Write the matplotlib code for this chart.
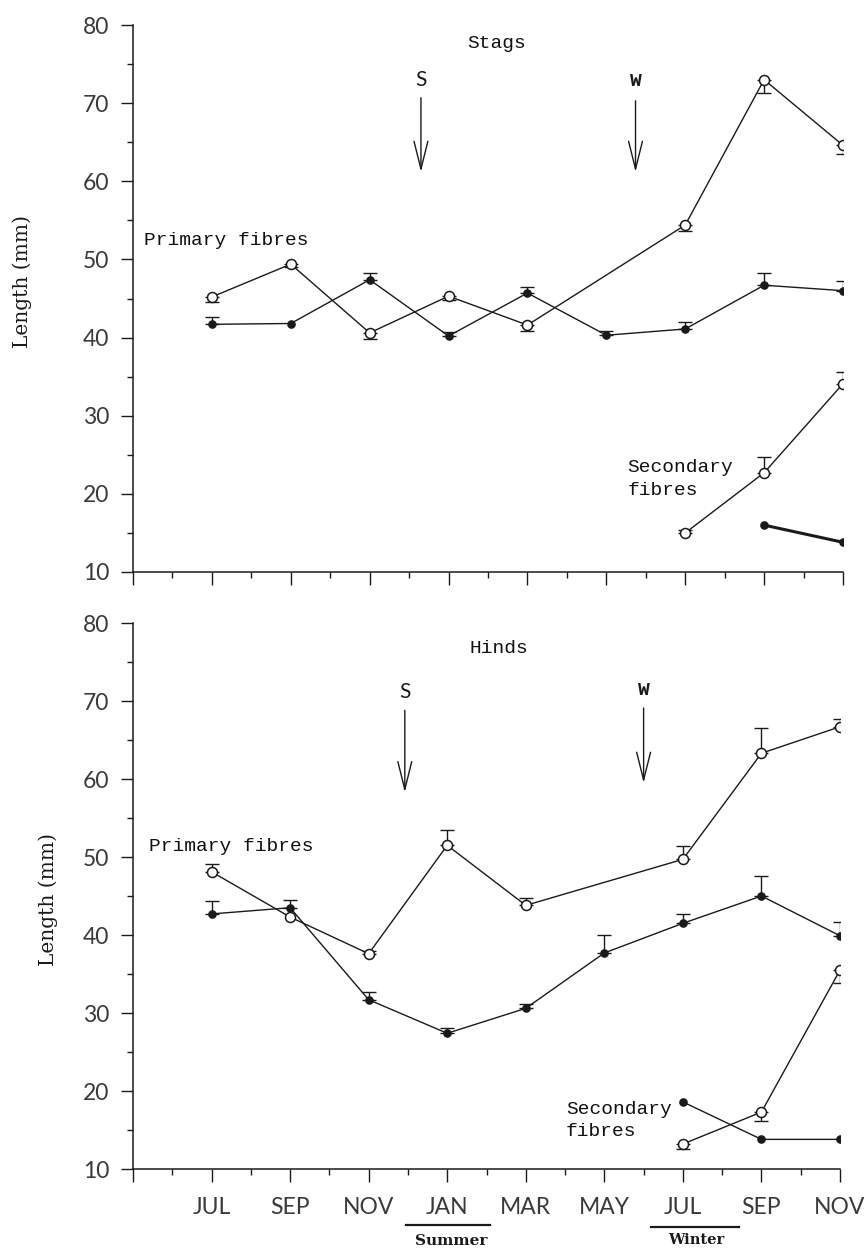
import numpy as np
import matplotlib
matplotlib.use("Agg")
import matplotlib.pyplot as plt
from matplotlib.ticker import FixedLocator, MultipleLocator
import matplotlib.transforms as mtransforms

# ---- data -------------------------------------------------------------
months = ["JUL", "SEP", "NOV", "JAN", "MAR", "MAY", "JUL", "SEP", "NOV"]
month_idx = np.arange(len(months))

# Stags
stag_prim_open_idx = np.array([0, 1, 2, 3, 4, 6, 7, 8])
stag_prim_open = np.array([45.2, 49.4, 40.6, 45.3, 41.6, 54.4, 73.0, 64.6])
stag_prim_open_lo = np.array([0.7, 0.4, 0.8, 0.5, 0.7, 0.8, 1.7, 1.1])
stag_prim_open_hi = np.zeros(8)

stag_prim_fill_idx = month_idx
stag_prim_fill = np.array([41.7, 41.8, 47.4, 40.2, 45.7, 40.3, 41.1, 46.7, 46.0])
stag_prim_fill_lo = np.zeros(9)
stag_prim_fill_hi = np.array([0.9, 0.0, 0.9, 0.5, 0.8, 0.5, 0.9, 1.6, 1.2])

stag_sec_open_idx = np.array([6, 7, 8])
stag_sec_open = np.array([15.0, 22.7, 34.1])
stag_sec_open_lo = np.zeros(3)
stag_sec_open_hi = np.array([0.4, 2.0, 1.5])

stag_sec_fill_idx = np.array([7, 8])
stag_sec_fill = np.array([16.0, 13.8])

# Hinds
hind_prim_open_idx = np.array([0, 1, 2, 3, 4, 6, 7, 8])
hind_prim_open = np.array([48.1, 42.3, 37.6, 51.5, 43.8, 49.7, 63.3, 66.7])
hind_prim_open_lo = np.zeros(8)
hind_prim_open_hi = np.array([1.0, 0.0, 0.3, 2.0, 0.9, 1.7, 3.2, 1.0])

hind_prim_fill_idx = month_idx
hind_prim_fill = np.array([42.7, 43.5, 31.7, 27.4, 30.6, 37.7, 41.5, 45.0, 39.9])
hind_prim_fill_lo = np.zeros(9)
hind_prim_fill_hi = np.array([1.7, 1.0, 1.0, 0.7, 0.6, 2.3, 1.2, 2.6, 1.8])

hind_sec_open_idx = np.array([6, 7, 8])
hind_sec_open = np.array([13.2, 17.3, 35.5])
hind_sec_open_lo = np.array([0.6, 1.1, 1.7])
hind_sec_open_hi = np.zeros(3)

hind_sec_fill_idx = np.array([6, 7, 8])
hind_sec_fill = np.array([18.6, 13.8, 13.8])

# ---- style ------------------------------------------------------------
INK = "#1a1a1a"
TICK_INK = "#3a3a3a"
MONO = "Liberation Mono"
TICKFONT = dict(family="Lato", weight="normal", size=16.5, color=TICK_INK)
LABELFONT = dict(family=MONO, size=14, color="#111111")

fig = plt.figure(figsize=(8.66, 12.5), dpi=100)
ax_top = fig.add_axes([133 / 866, 1 - 572 / 1250, (843 - 133) / 866, 547 / 1250])
ax_bot = fig.add_axes([133 / 866, 1 - 1169 / 1250, (840 - 133) / 866, 546 / 1250])


def series(ax, idx, vals, lo, hi, filled, lw=1.0):
    if filled:
        ax.plot(idx, vals, "-", color=INK, lw=lw, marker="o", ms=5.2,
                mfc=INK, mec=INK, zorder=3)
    else:
        ax.plot(idx, vals, "-", color=INK, lw=lw, marker="o", ms=7.2,
                mfc="white", mec=INK, mew=1.1, zorder=4)
    if lo is None:
        return
    lo = np.asarray(lo)
    hi = np.asarray(hi)
    m = (lo > 0) | (hi > 0)
    if m.any():
        ax.errorbar(np.asarray(idx)[m], np.asarray(vals)[m],
                    yerr=[lo[m], hi[m]], fmt="none", ecolor=INK,
                    elinewidth=1.0, capsize=5, capthick=1.0, zorder=2)


def style_axes(ax, show_labels):
    ax.set_xlim(-1, 8)
    ax.set_ylim(10, 80)
    for s in ("top", "right"):
        ax.spines[s].set_visible(False)
    for s in ("left", "bottom"):
        ax.spines[s].set_color(INK)
        ax.spines[s].set_linewidth(1.1)
    ax.xaxis.set_major_locator(FixedLocator(np.arange(-1, 9)))
    ax.xaxis.set_minor_locator(FixedLocator(np.arange(-0.5, 8, 1.0)))
    ax.yaxis.set_major_locator(MultipleLocator(10))
    ax.yaxis.set_minor_locator(MultipleLocator(5))
    ax.tick_params(axis="both", which="major", direction="out", length=9,
                   width=1.0, color=INK)
    ax.tick_params(axis="both", which="minor", direction="out", length=4.5,
                   width=1.0, color=INK)
    ax.tick_params(axis="y", pad=8)
    ax.tick_params(axis="x", pad=11)
    ax.set_yticks(np.arange(10, 81, 10))
    ax.set_yticklabels([str(v) for v in range(10, 81, 10)], **TICKFONT)
    if show_labels:
        ax.set_xticklabels([""] + months, **TICKFONT)
    else:
        ax.set_xticklabels([""] * 10)


def arrow(ax, x, y_tail, y_tip):
    ax.annotate("", xy=(x, y_tip), xytext=(x, y_tail),
                arrowprops=dict(arrowstyle="->,head_length=1.0,head_width=0.25",
                                color=INK, lw=1.0, mutation_scale=20,
                                shrinkA=0, shrinkB=0))


# ---- Stags ------------------------------------------------------------
ax = ax_top
style_axes(ax, False)
series(ax, stag_prim_open_idx, stag_prim_open, stag_prim_open_lo, stag_prim_open_hi, False)
series(ax, stag_prim_fill_idx, stag_prim_fill, stag_prim_fill_lo, stag_prim_fill_hi, True)
series(ax, stag_sec_open_idx, stag_sec_open, stag_sec_open_lo, stag_sec_open_hi, False)
series(ax, stag_sec_fill_idx, stag_sec_fill, None, None, True, lw=2.2)

ax.text(3.61, 77.6, "Stags", ha="center", va="center", **LABELFONT)
ax.text(-0.86, 52.4, "Primary fibres", ha="left", va="center", **LABELFONT)
ax.text(5.27, 21.9, "Secondary\nfibres", ha="left", va="center", linespacing=1.4, **LABELFONT)
ax.text(2.65, 73.0, "S", family="Lato", size=15, color=INK, ha="center", va="center")
ax.text(5.37, 72.8, "W", family=MONO, weight="bold", size=14, color=INK, ha="center", va="center")
arrow(ax, 2.65, 70.7, 61.2)
arrow(ax, 5.37, 70.3, 61.2)

# ---- Hinds ------------------------------------------------------------
ax = ax_bot
style_axes(ax, True)
series(ax, hind_prim_open_idx, hind_prim_open, hind_prim_open_lo, hind_prim_open_hi, False)
series(ax, hind_prim_fill_idx, hind_prim_fill, hind_prim_fill_lo, hind_prim_fill_hi, True)
series(ax, hind_sec_open_idx, hind_sec_open, hind_sec_open_lo, hind_sec_open_hi, False)
series(ax, hind_sec_fill_idx, hind_sec_fill, None, None, True)

ax.text(3.66, 76.7, "Hinds", ha="center", va="center", **LABELFONT)
ax.text(-0.79, 51.3, "Primary fibres", ha="left", va="center", **LABELFONT)
ax.text(4.51, 16.2, "Secondary\nfibres", ha="left", va="center", linespacing=1.4, **LABELFONT)
ax.text(2.46, 71.2, "S", family="Lato", size=15, color=INK, ha="center", va="center")
ax.text(5.50, 71.4, "W", family=MONO, weight="bold", size=14, color=INK, ha="center", va="center")
arrow(ax, 2.46, 68.8, 58.3)
arrow(ax, 5.50, 69.1, 59.5)

# season bars under the month axis
trans = mtransforms.blended_transform_factory(ax.transData, ax.transAxes)
ax.plot([2.48, 3.54], [-0.1026, -0.1026], color=INK, lw=1.6, transform=trans, clip_on=False)
ax.plot([5.60, 6.72], [-0.106, -0.106], color=INK, lw=1.6, transform=trans, clip_on=False)
ax.text(3.05, -0.132, "Summer", transform=trans, family="DejaVu Serif", weight="bold",
        size=11, color=INK, ha="center", va="center")
ax.text(6.17, -0.130, "Winter", transform=trans, family="DejaVu Serif", weight="bold",
        size=10.5, color=INK, ha="center", va="center")

# y-axis titles
fig.text(22 / 866, 1 - 281 / 1250, "Length (mm)", rotation=90, family="DejaVu Serif",
         size=14.5, color=INK, ha="center", va="center")
fig.text(48 / 866, 1 - 900 / 1250, "Length (mm)", rotation=90, family="DejaVu Serif",
         size=14.5, color=INK, ha="center", va="center")

fig.savefig("out.png", dpi=100, facecolor="white")
